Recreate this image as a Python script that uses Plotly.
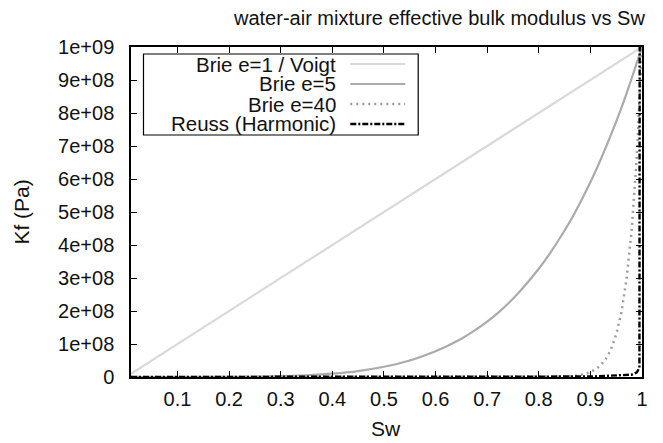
import plotly.graph_objects as go

# ---- data ----
sw_voigt = [0.01, 1.0]
k_voigt = [1.0e7, 1.0e9]

sw_e5 = [0.01, 0.1, 0.2, 0.3, 0.35, 0.4, 0.45, 0.5, 0.55, 0.6, 0.62, 0.65,
         0.67, 0.7, 0.72, 0.75, 0.77, 0.8, 0.82, 0.85, 0.87, 0.9, 0.92,
         0.95, 0.97, 1.0]
k_e5 = [0.0, 1.0e4, 3.2e5, 2.4e6, 5.3e6, 1.0e7, 1.8e7, 3.1e7, 5.0e7, 7.8e7,
        9.2e7, 1.16e8, 1.35e8, 1.68e8, 1.93e8, 2.37e8, 2.71e8, 3.28e8,
        3.71e8, 4.44e8, 4.98e8, 5.9e8, 6.59e8, 7.74e8, 8.59e8, 1.0e9]

sw_e40 = [0.01, 0.8, 0.85, 0.87, 0.88, 0.89, 0.9, 0.91, 0.92, 0.93, 0.94,
          0.95, 0.96, 0.97, 0.98, 0.99, 1.0]
k_e40 = [0.0, 1.3e5, 1.5e6, 3.8e6, 6.0e6, 9.4e6, 1.48e7, 2.3e7, 3.6e7,
         5.5e7, 8.4e7, 1.29e8, 1.95e8, 2.96e8, 4.46e8, 6.69e8, 1.0e9]

sw_reuss = [0.01, 0.5, 0.9, 0.98, 0.99, 0.995, 0.9955, 1.0]
k_reuss = [1.4e5, 2.8e5, 1.4e6, 7.0e6, 1.4e7, 2.8e7, 1.0e9, 1.0e9]

names = ["Brie e=1 / Voigt", "Brie e=5", "Brie e=40", "Reuss (Harmonic)"]

x_tickvals = [0.1, 0.2, 0.3, 0.4, 0.5, 0.6, 0.7, 0.8, 0.9, 1.0]
x_ticktext = ["0.1", "0.2", "0.3", "0.4", "0.5", "0.6", "0.7", "0.8", "0.9", "1"]
y_tickvals = [0, 1e8, 2e8, 3e8, 4e8, 5e8, 6e8, 7e8, 8e8, 9e8, 1e9]
y_ticktext = ["0", "1e+08", "2e+08", "3e+08", "4e+08", "5e+08", "6e+08",
              "7e+08", "8e+08", "9e+08", "1e+09"]

# ---- styles ----
FONT = "Liberation Sans, Arial, Helvetica, sans-serif"
styles = [
    dict(color="#d9d9d9", width=2.2, dash="solid"),
    dict(color="#ababab", width=2.2, dash="solid", shape="spline"),
    dict(color="#9c9c9c", width=2.5, dash="2px,4px"),
    dict(color="#000000", width=2.4, dash="6px,2px,2px,2px"),
]

# the page body has an 8px margin; lay out in window pixels and shift
OFF = 8
W, H = 663 - OFF, 443 - OFF
PL, PR, PT, PB = 130.5, 642, 47, 377  # plot area in window pixels
L, T = PL - OFF, PT - OFF
R, B = W - (PR - OFF), H - (PB - OFF)
pw, ph = PR - PL, PB - PT


def px(x):
    return (x - PL) / pw


def py(y):
    return (PB - y) / ph


fig = go.Figure()
data = [(sw_voigt, k_voigt), (sw_e5, k_e5), (sw_e40, k_e40), (sw_reuss, k_reuss)]
for (xs, ys), nm, st in zip(data, names, styles):
    fig.add_trace(go.Scatter(x=xs, y=ys, mode="lines", name=nm, line=st,
                             showlegend=False, cliponaxis=True))

axis_common = dict(showline=True, linecolor="black", linewidth=1.5,
                   mirror="ticks", ticks="inside", ticklen=6, tickwidth=1,
                   tickcolor="black", showgrid=False, zeroline=False,
                   tickfont=dict(family=FONT, size=20, color="#111"))
fig.update_xaxes(range=[0.01, 1.0], tickvals=x_tickvals, ticktext=x_ticktext,
                 ticklabelstandoff=3, **axis_common)
fig.update_yaxes(range=[0, 1e9], tickvals=y_tickvals, ticktext=y_ticktext,
                 ticklabelstandoff=11, **axis_common)

# legend box (gnuplot style: text right, sample on the right)
shapes = [dict(type="rect", xref="paper", yref="paper",
               x0=px(143), x1=px(418), y0=py(135), y1=py(54),
               line=dict(color="black", width=1.2), fillcolor="white",
               layer="below")]
annotations = []
leg_y = [64, 84, 104, 124]
for nm, st, yy in zip(names, styles, leg_y):
    lst = {k: v for k, v in st.items() if k != "shape"}
    shapes.append(dict(type="line", xref="paper", yref="paper",
                       x0=px(350), x1=px(405), y0=py(yy), y1=py(yy),
                       line=lst))
    annotations.append(dict(text=nm, xref="paper", yref="paper",
                            x=px(338), y=py(yy), xanchor="right",
                            yanchor="middle", showarrow=False,
                            font=dict(family=FONT, size=20.5, color="#111")))

annotations.append(dict(text="water-air mixture effective bulk modulus vs Sw",
                        xref="paper", yref="paper", x=px(647), y=py(18),
                        xanchor="right", yanchor="middle", showarrow=False,
                        font=dict(family=FONT, size=20, color="#111")))
annotations.append(dict(text="Kf (Pa)", xref="paper", yref="paper",
                        x=px(20), y=py(212), xanchor="center",
                        yanchor="middle", textangle=-90, showarrow=False,
                        font=dict(family=FONT, size=21, color="#111")))
annotations.append(dict(text="Sw", xref="paper", yref="paper",
                        x=px(386), y=py(428), xanchor="center",
                        yanchor="middle", showarrow=False,
                        font=dict(family=FONT, size=21, color="#111")))

fig.update_layout(width=W, height=H,
                  margin=dict(l=L, r=R, t=T, b=B, autoexpand=False),
                  plot_bgcolor="white", paper_bgcolor="white",
                  shapes=shapes, annotations=annotations, showlegend=False)

fig.write_html("out.html")
